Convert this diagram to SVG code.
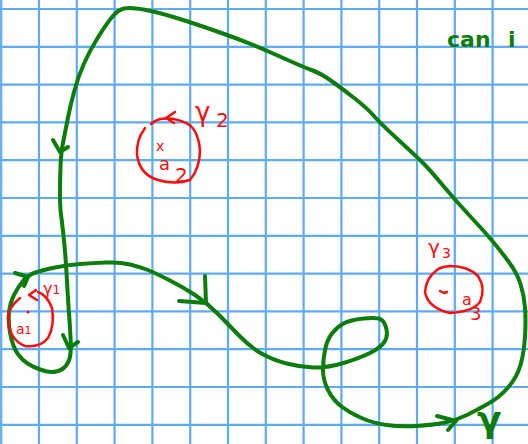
<svg xmlns="http://www.w3.org/2000/svg" width="528" height="444" viewBox="0 0 528 444">
<style>
.grid line{stroke:#5eaaf7;stroke-width:2.2}
.g{fill:none;stroke:#0a7d0a;stroke-width:4;stroke-linecap:round;stroke-linejoin:round}
.r{fill:none;stroke:#ff0a0a;stroke-width:2.5;stroke-linecap:round;stroke-linejoin:round}
.rt{fill:#ff0a0a;font-family:"DejaVu Sans",sans-serif}
.gt{fill:#0a7d0a;font-family:"DejaVu Sans",sans-serif;font-weight:bold}
</style>
<rect width="528" height="444" fill="#ffffff"/>
<g class="grid">
<line x1="1.2" y1="0" x2="1.2" y2="444"/>
<line x1="39" y1="0" x2="39" y2="444"/>
<line x1="76.8" y1="0" x2="76.8" y2="444"/>
<line x1="114.6" y1="0" x2="114.6" y2="444"/>
<line x1="152.4" y1="0" x2="152.4" y2="444"/>
<line x1="190.2" y1="0" x2="190.2" y2="444"/>
<line x1="228" y1="0" x2="228" y2="444"/>
<line x1="265.8" y1="0" x2="265.8" y2="444"/>
<line x1="303.6" y1="0" x2="303.6" y2="444"/>
<line x1="341.4" y1="0" x2="341.4" y2="444"/>
<line x1="379.2" y1="0" x2="379.2" y2="444"/>
<line x1="417" y1="0" x2="417" y2="444"/>
<line x1="454.8" y1="0" x2="454.8" y2="444"/>
<line x1="492.6" y1="0" x2="492.6" y2="444"/>
<line x1="0" y1="9" x2="528" y2="9"/>
<line x1="0" y1="46.8" x2="528" y2="46.8"/>
<line x1="0" y1="84.6" x2="528" y2="84.6"/>
<line x1="0" y1="122.4" x2="528" y2="122.4"/>
<line x1="0" y1="160.2" x2="528" y2="160.2"/>
<line x1="0" y1="198" x2="528" y2="198"/>
<line x1="0" y1="235.8" x2="528" y2="235.8"/>
<line x1="0" y1="273.6" x2="528" y2="273.6"/>
<line x1="0" y1="311.4" x2="528" y2="311.4"/>
<line x1="0" y1="349.2" x2="528" y2="349.2"/>
<line x1="0" y1="387" x2="528" y2="387"/>
<line x1="0" y1="424.8" x2="528" y2="424.8"/>
</g>
<g id="connectors">
<path id="gamma-curve" class="g" d="M143.5,9.5 Q130,7 124,8.5 Q118,10 112.5,16.5 Q107,23 98.5,36.5 Q90,50 84,63.5 Q78,77 74,92 Q70,107 67.5,120 Q65,133 63,143 Q61,153 60.5,166.5 Q60,180 60,193.5 Q60,207 61,214.5 Q62,222 63,231 Q64,240 65,251.5 Q66,263 67,281.5 Q68,300 69,313.5 Q70,327 70.5,337 Q71,347 70.5,353.5 Q70,360 66.5,365 Q63,370 56.5,371.5 Q50,373 41.5,370 Q33,367 27.5,363.5 Q22,360 17.5,353.5 Q13,347 10.5,335 Q8,323 9,313 Q10,303 14,295 Q18,287 23,281 Q28,275 35.5,272.5 Q43,270 55,267.5 Q67,265 80,264 Q93,263 106.5,262.5 Q120,262 130,264.5 Q140,267 146.5,269.5 Q153,272 168,279.5 Q183,287 195,295 Q207,303 217,313 Q227,323 238.5,335 Q250,347 261.5,353.5 Q273,360 286.5,363.5 Q300,367 313.5,367.5 Q327,368 343.5,363 Q360,358 370,353 Q380,348 384,342.5 Q388,337 386.5,329.5 Q385,322 381,319.5 Q377,317 363.5,318.5 Q350,320 343.5,323.5 Q337,327 332,333.5 Q327,340 325,350 Q323,360 323,370 Q323,380 328,390 Q333,400 341.5,406.5 Q350,413 361.5,418 Q373,423 386.5,425 Q400,427 416.5,426 Q433,425 445,422.5 Q457,420 467,415 Q477,410 488.5,403.5 Q500,397 508.5,387 Q517,377 520.5,365 Q524,353 525,336.5 Q526,320 525,307.5 Q524,295 520.5,284 Q517,273 508.5,261.5 Q500,250 491.5,240 Q483,230 469,215 Q455,200 442.5,185 Q430,170 423.5,163.5 Q417,157 398.5,140 Q380,123 373.5,115.5 Q367,108 353.5,97.5 Q340,87 330,80 Q320,73 311.5,70 Q303,67 276.5,55 Q250,43 221.5,33 Q193,23 175,17.5 Q157,12 143.5,9.5 Z"/>
<polyline class="g" points="53,140 60,152 68,147"/>
<polyline class="g" points="63,335 69,348 78,342"/>
<polyline class="g" points="15,273 28,277 24,286"/>
<polyline class="g" points="205,276 206,303 179,301"/>
<polyline class="g" points="437,416 456,421 448,430"/>
</g>
<g id="gamma1">
<path class="r" d="M20,298 Q8,308 8,318 Q9,340 25,346 Q40,348 48,338 Q55,325 52,308 Q47,295 38,292"/>
<polyline class="r" points="36,290 29,295 37,300"/>
<circle cx="28" cy="312" r="1.5" fill="#ff0a0a"/>
<text class="rt" x="43" y="294" font-size="16">γ<tspan font-size="12">1</tspan></text>
<text class="rt" x="16" y="334" font-size="14">a<tspan font-size="11">1</tspan></text>
</g>
<g id="gamma2">
<path class="r" d="M145,128 Q136,140 137,155 Q140,175 158,180 Q175,185 190,180 Q200,168 200,150 Q198,130 188,124 Q175,117 160,119 Q154,121 151,124"/>
<polyline class="r" points="175,112 166,118 174,123"/>
<text class="rt" x="156" y="151" font-size="14">x</text>
<text class="rt" x="195" y="121" font-size="26">γ</text>
<text class="rt" x="216" y="127" font-size="20">2</text>
<text class="rt" x="159" y="170" font-size="18">a</text>
<text class="rt" x="175" y="182" font-size="20">2</text>
</g>
<g id="gamma3">
<path class="r" d="M437,270 Q426,278 425,292 Q428,308 450,313 Q472,312 480,302 Q486,288 478,276 Q468,266 450,266 Q440,267 437,270 Z"/>
<polyline class="r" points="440,291 444,293 447,292"/>
<text class="rt" x="428" y="254" font-size="20">γ</text>
<text class="rt" x="442" y="258" font-size="14">3</text>
<text class="rt" x="462" y="305" font-size="16">a</text>
<text class="rt" x="470" y="320" font-size="18">3</text>
</g>
<g id="labels">
<text class="gt" x="447" y="47" font-size="22">can<tspan x="508">i</tspan></text>
<text class="gt" x="477" y="432" font-size="36" font-weight="normal">γ</text>
</g>
</svg>
